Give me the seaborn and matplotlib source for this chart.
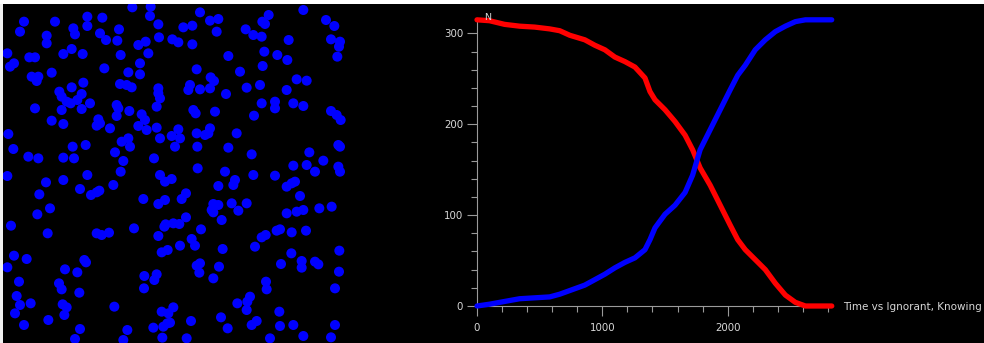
import matplotlib
matplotlib.use("Agg")
import matplotlib.pyplot as plt
import seaborn as sns
import pandas as pd
from matplotlib.patches import Rectangle

# ---------------- data ----------------
# agent positions (left panel), in panel pixel units (x right, y down)
dots = [
    (397,22),(452,20),(910,30),(600,37),(806,45),(72,65),(165,65),(262,50),(307,53),(450,48),
    (475,73),(630,62),(655,57),(787,65),(795,72),(978,60),(1003,78),(60,95),(220,85),(262,78),
    (357,88),(550,82),(577,77),(650,95),(737,88),
    (140,107),(225,103),(300,100),(318,120),(352,122),(415,135),(437,125),(477,112),(517,118),
    (535,127),(577,133),(760,105),(785,110),(866,120),(993,118),(1020,125),(1017,140),(140,130),
    (22,160),(88,172),(105,172),(190,162),(215,147),(248,162),(362,165),(445,160),(685,168),
    (793,155),(832,165),(862,180),(1012,170),(30,200),(42,190),(313,205),(420,190),(590,208),(788,198),
    (95,230),(115,230),(110,243),(155,218),(385,217),(420,223),(720,215),(632,232),(642,243),
    (890,238),(920,242),(250,248),(215,262),(360,252),(380,255),(395,262),(475,265),(570,255),
    (565,270),(600,268),(630,265),(740,263),(780,255),(860,270),
    (178,275),(185,290),(245,282),(232,300),(200,305),(212,310),(245,327),(270,310),(475,280),
    (480,295),(470,320),(678,282),(105,325),(185,330),(350,315),(355,325),(388,333),(580,330),
    (587,340),(645,335),(785,310),(825,305),(825,325),(880,310),(910,318),(993,333),
    (155,362),(190,372),(350,348),(425,343),(435,360),(295,358),(300,370),(290,377),(330,385),
    (415,378),(440,390),(470,383),(535,388),(762,347),(1010,345),(1022,360),(630,385),(625,400),(615,405),
    (25,402),(590,400),(710,400),(480,415),(515,408),(540,415),(525,440),(365,425),(385,415),
    (390,440),(218,440),(222,475),(257,435),(40,447),(592,440),(685,443),(1015,435),(1020,440),
    (345,457),(370,483),(462,475),(755,463),(928,457),(970,482),(85,470),(115,475),(190,473),
    (880,497),(920,495),(945,515),(593,505),(1015,500),(1020,515),
    (22,528),(190,540),(262,525),(362,515),(480,525),(495,545),(515,537),(675,515),(760,525),
    (825,527),(138,547),(340,555),(705,540),(700,555),(240,567),(273,585),(290,577),(298,572),
    (655,558),(860,560),(875,550),(885,545),(118,583),
    (430,597),(475,612),(495,600),(545,597),(558,580),(900,588),(150,625),(112,643),(640,612),
    (655,615),(635,630),(640,637),(695,610),(715,632),(740,610),(860,640),(890,635),(910,630),
    (958,625),(995,620),(665,660),
    (33,677),(143,700),(290,700),(305,705),(327,698),(402,685),(493,680),(520,670),(538,672),
    (558,652),(603,688),(497,673),(475,708),(575,717),(785,712),(797,705),(830,692),(840,688),
    (875,697),(918,692),
    (540,737),(585,737),(668,747),(765,740),(485,757),(503,750),(874,760),(1018,752),(42,767),
    (80,777),(253,780),(258,787),(905,783),(945,785),(955,793),
    (22,802),(195,808),(232,817),(600,790),(590,797),(598,818),(640,835),(657,800),(843,792),
    (905,803),(1017,815),(433,828),(470,823),(463,840),(57,845),(177,850),(798,845),
    (185,868),(238,878),(432,865),(800,868),(1005,865),(50,888),(750,890),(742,905),(60,915),
    (92,910),(188,913),(200,922),(712,910),(343,920),
    (45,940),(193,945),(485,935),(520,922),(505,940),(740,930),(838,935),(145,960),(663,952),
    (502,970),(510,968),(490,980),(573,963),(770,963),(755,975),(72,975),(460,983),(683,985),
    (840,978),(880,975),(1005,975),
    (240,987),(382,990),(225,1017),(370,1020),(487,1013),(560,1015),(810,1015),(910,1008),(993,1012),
]
dot_x = [p[0] for p in dots]
dot_y = [p[1] for p in dots]

# time series (right panel)
time = [0, 100, 220, 340, 460, 580, 660, 740, 860, 940, 1020, 1100, 1180, 1260, 1340, 1380,
        1420, 1500, 1580, 1660, 1720, 1780, 1860, 1940, 2020, 2080, 2140, 2220, 2300, 2380,
        2460, 2540, 2620, 2830]
ignorant = [315, 314, 310, 308, 307, 305, 303, 298, 293, 287, 282, 274, 269, 263, 251, 236,
            227, 216, 203, 188, 172, 152, 133, 111, 89, 73, 62, 51, 40, 25, 12, 4, 0, 0]
knowing = [0, 2, 5, 8, 9, 10, 13, 17, 23, 29, 35, 42, 48, 53, 62, 73,
           86, 101, 111, 125, 144, 172, 194, 216, 238, 254, 265, 282, 293, 302, 308, 313, 315, 315]

x_ticks = [0, 1000, 2000]
y_ticks = [0, 100, 200, 300]
y_label = "N"
x_label = "Time vs Ignorant, Knowing"

# ---------------- figure ----------------
sns.set_theme(style="dark")
plt.rcParams['font.family'] = ['DejaVu Sans']

W, H = 984, 343
fig = plt.figure(figsize=(W / 100, H / 100), dpi=100, facecolor="black")

# white strips at the top and left edge
fig.patches.append(Rectangle((0, 1 - 4 / H), 1, 4 / H, transform=fig.transFigure,
                             facecolor="white", edgecolor="none", zorder=0))
fig.patches.append(Rectangle((0, 0), 3 / W, 1 - 4 / H, transform=fig.transFigure,
                             facecolor="#f0f0f0", edgecolor="none", zorder=0))

# left panel: agents
ax1 = fig.add_axes([3 / W, 0, 354 / W, 339 / H])
ax1.set_facecolor("black")
df_dots = pd.DataFrame({"x": dot_x, "y": dot_y})
sns.scatterplot(data=df_dots, x="x", y="y", ax=ax1, color="#0000ff", s=52,
                edgecolor="none", linewidth=0, legend=False)
ax1.set_xlim(9, 1071)
ax1.set_ylim(1029, 12)
ax1.set_axis_off()

# right panel: time series
x0, x1 = 477, 833
y0, y1 = 306, 18
ax2 = fig.add_axes([x0 / W, (H - y0) / H, (x1 - x0) / W, (y0 - y1) / H])
ax2.set_facecolor("black")
df = pd.DataFrame({"time": time, "Ignorant": ignorant, "Knowing": knowing})
sns.lineplot(data=df, x="time", y="Ignorant", ax=ax2, color="#ff0000", linewidth=3.8,
             clip_on=False, solid_capstyle="round", solid_joinstyle="round", zorder=3)
sns.lineplot(data=df, x="time", y="Knowing", ax=ax2, color="#0000ff", linewidth=3.8,
             clip_on=False, solid_capstyle="round", solid_joinstyle="round", zorder=4)
ax2.set_xlim(0, 2840)
ax2.set_ylim(0, 317)
ax2.grid(False)
for s in ["top", "right"]:
    ax2.spines[s].set_visible(False)
for s in ["left", "bottom"]:
    ax2.spines[s].set_color("#9a9a9a")
    ax2.spines[s].set_linewidth(0.8)
    ax2.spines[s].set_zorder(1)
ax2.set_xticks(x_ticks)
ax2.set_yticks(y_ticks)
ax2.set_xticks(range(0, 2841, 200), minor=True)
ax2.set_yticks(range(0, 317, 20), minor=True)
ax2.tick_params(axis="both", which="major", length=7, width=0.8, color="#9a9a9a",
                labelcolor="#d8d8d8", labelsize=7.4, direction="out", bottom=True, left=True)
ax2.tick_params(axis="both", which="minor", length=4, width=0.8, color="#9a9a9a",
                direction="out", bottom=True, left=True)
ax2.tick_params(axis="x", which="major", pad=5)
ax2.tick_params(axis="y", which="major", pad=3)
ax2.set_xlabel("")
ax2.set_ylabel("")

fig.text(488 / W, 1 - 17 / H, y_label, color="#d8d8d8", fontsize=6.8, ha="center", va="center")
fig.text(843 / W, 1 - 307 / H, x_label, color="#d8d8d8", fontsize=7.5, ha="left", va="center")

fig.savefig("out.png", dpi=100, facecolor="black")
